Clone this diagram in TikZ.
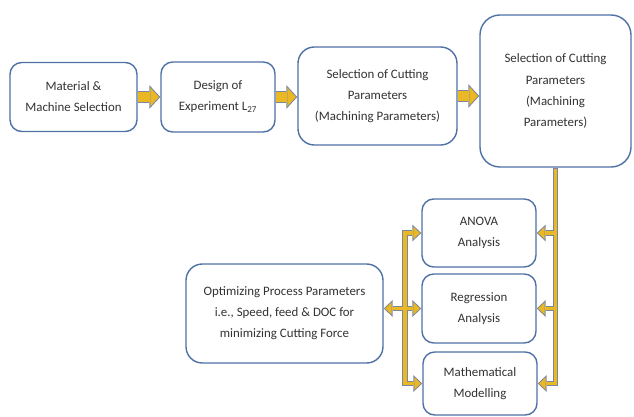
\documentclass[tikz,border=0pt]{standalone}
\usepackage{fontspec}
\setmainfont{Carlito}
\usetikzlibrary{arrows.meta}

\definecolor{boxblue}{RGB}{79,113,166}
\definecolor{arrgold}{RGB}{233,184,36}
\definecolor{arredge}{RGB}{125,135,155}

\begin{document}
\begin{tikzpicture}[
  x=0.03cm, y=-0.03cm,
  box/.style={rectangle, draw=boxblue, line width=1.2pt, rounded corners=10pt, fill=white,
    align=center, inner sep=0pt, text=black!80, font=\fontsize{11}{18}\selectfont},
  bigbox/.style={box, rounded corners=14pt},
  bigout/.style={draw=arredge, line width=9.4pt, >={Triangle[length=9.4pt, width=20.4pt, line width=0pt]}},
  bigin/.style={draw=arrgold, line width=7.7pt, shorten >=1.16pt, >={Triangle[length=7.4pt, width=15.9pt, line width=0pt]}},
  busout/.style={draw=arredge, line width=5.1pt, line join=miter, >={Triangle[length=7.7pt, width=14.5pt, line width=0pt]}},
  busin/.style={draw=arrgold, line width=3.4pt, line join=miter, shorten >=1.25pt, shorten <=1.25pt, >={Triangle[length=5.6pt, width=10.5pt, line width=0pt]}},
]
\useasboundingbox (0,0) rectangle (634,417);

% ══ Top row ══
\node[box, minimum width=3.81cm, minimum height=2.07cm] (mat) at (73.5,97) {Material \&\\Machine Selection};
\node[box, minimum width=3.42cm, minimum height=2.1cm] (doe) at (218,97) {Design of\\Experiment L\textsubscript{27}};
\node[bigbox, minimum width=4.77cm, minimum height=2.94cm] (sel) at (377.5,96) {Selection of Cutting\\Parameters\\(Machining Parameters)};
\node[bigbox, rounded corners=17pt, minimum width=4.53cm, minimum height=4.56cm] (selb) at (555.5,91) {Selection of Cutting\\Parameters\\(Machining\\Parameters)};

\draw[bigout, ->] (mat) -- (doe);
\draw[bigin, ->] (mat) -- (doe);
\draw[bigout, ->] (doe.east) -- (sel.west |- doe.east);
\draw[bigin, ->] (doe.east) -- (sel.west |- doe.east);
\draw[bigout, ->] (sel.east) -- (selb.west |- sel.east);
\draw[bigin, ->] (sel.east) -- (selb.west |- sel.east);

% ══ Analysis column ══
\node[box, minimum width=3.42cm, minimum height=2.04cm] (anova) at (479,233) {ANOVA\\Analysis};
\node[box, minimum width=3.42cm, minimum height=2.07cm] (regr) at (479,308.5) {Regression\\Analysis};
\node[box, minimum width=3.42cm, minimum height=1.89cm] (math) at (480,383.5) {Mathematical\\Modelling};

% Optimizing box
\node[bigbox, minimum width=5.91cm, minimum height=2.97cm] (opt) at (284.5,313.5) {Optimizing Process Parameters\\i.e., Speed, feed \& DOC for\\minimizing Cutting Force};

% ══ Bus lines (outline first, then fill) ══
\coordinate (lb) at (405,308.5);

\draw[busout, ->] (selb.south) |- (math.east);
\draw[busout, ->] (selb.south |- anova.east) -- (anova.east);
\draw[busout, ->] (selb.south |- regr.east) -- (regr.east);
\draw[busout, <->] (anova.west) -| (lb) |- (math.west);
\draw[busout, <->] (opt.east |- lb) -- (regr.west);

\draw[busin, ->] (selb.south) |- (math.east);
\draw[busin, ->] (selb.south |- anova.east) -- (anova.east);
\draw[busin, ->] (selb.south |- regr.east) -- (regr.east);
\draw[busin, <->] (anova.west) -| (lb) |- (math.west);
\draw[busin, <->] (opt.east |- lb) -- (regr.west);

\end{tikzpicture}
\end{document}
